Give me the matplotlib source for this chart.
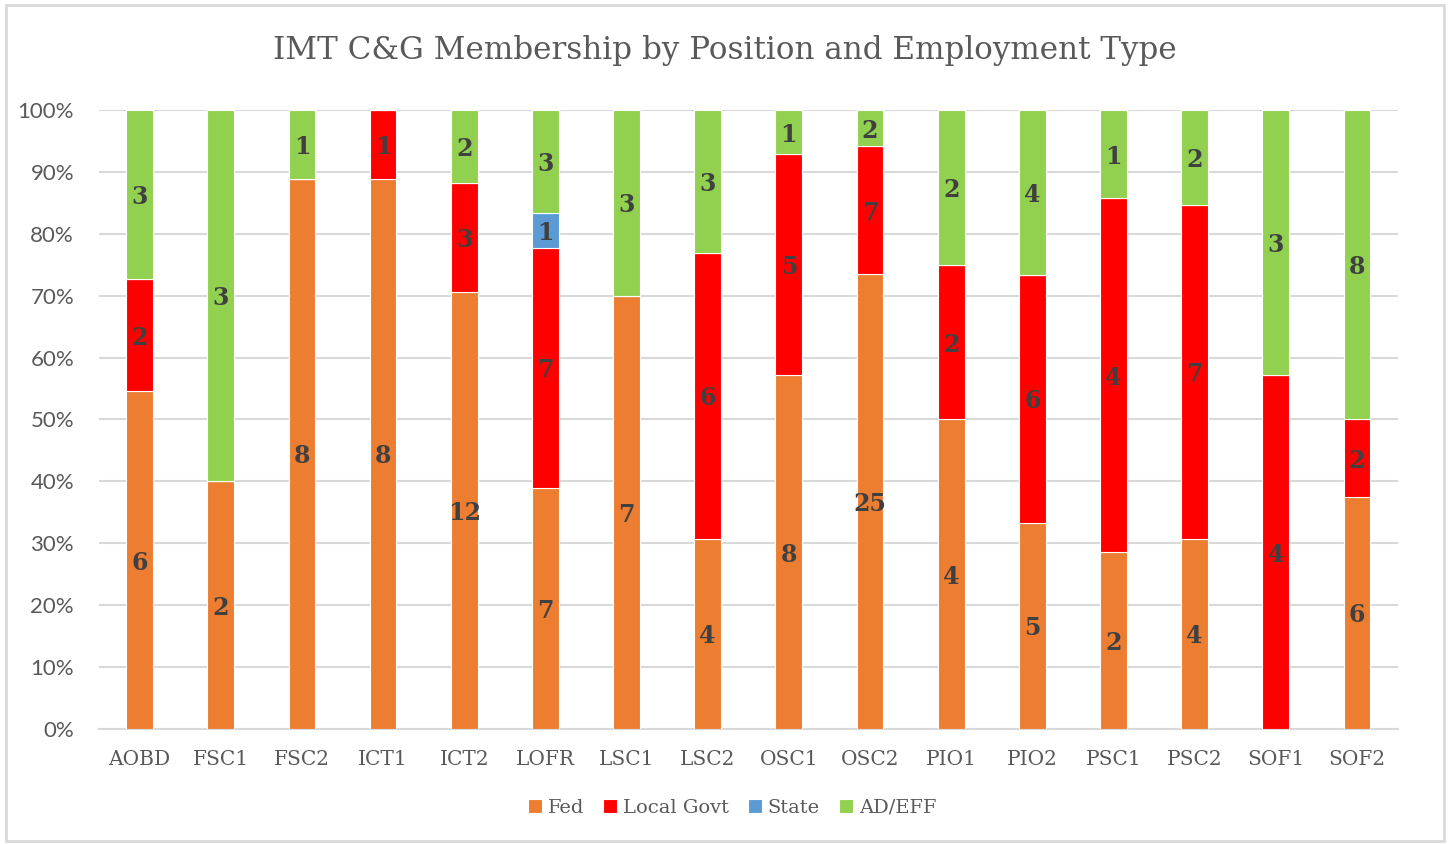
import numpy as np
import matplotlib.pyplot as plt
from matplotlib.patches import Rectangle

positions = ['AOBD', 'FSC1', 'FSC2', 'ICT1', 'ICT2', 'LOFR', 'LSC1', 'LSC2',
             'OSC1', 'OSC2', 'PIO1', 'PIO2', 'PSC1', 'PSC2', 'SOF1', 'SOF2']
fed = [6, 2, 8, 8, 12, 7, 7, 4, 8, 25, 4, 5, 2, 4, 0, 6]
local_govt = [2, 0, 0, 1, 3, 7, 0, 6, 5, 7, 2, 6, 4, 7, 4, 2]
state = [0, 0, 0, 0, 0, 1, 0, 0, 0, 0, 0, 0, 0, 0, 0, 0]
ad_eff = [3, 3, 1, 0, 2, 3, 3, 3, 1, 2, 2, 4, 1, 2, 3, 8]

series = [('Fed', fed, '#ED7D31'),
          ('Local Govt', local_govt, '#FF0000'),
          ('State', state, '#5B9BD5'),
          ('AD/EFF', ad_eff, '#92D050')]

serif = 'DejaVu Serif'
sans = 'Lato'

fig = plt.figure(figsize=(14.5, 8.44), dpi=100)
ax = fig.add_axes([0.0683, 0.1363, 0.8955, 0.7334])

x = np.arange(len(positions))
totals = np.array(fed) + np.array(local_govt) + np.array(state) + np.array(ad_eff)
bottom = np.zeros(len(positions))
for name, vals, color in series:
    vals = np.array(vals, dtype=float)
    pct = vals / totals * 100
    ax.bar(x, pct, 0.33, bottom=bottom, color=color, label=name,
           edgecolor='white', linewidth=0.8, zorder=3)
    for xi, v, p, b in zip(x, vals, pct, bottom):
        if v > 0:
            ax.text(xi, b + p / 2 - 0.4, '%d' % v, ha='center', va='center',
                    fontsize=17, fontweight='bold', color='#404040',
                    family=serif, zorder=4)
    bottom += pct

ax.set_xlim(-0.5, len(positions) - 0.5)
ax.set_ylim(0, 100)
ax.set_yticks(np.arange(0, 101, 10))
ax.set_yticklabels(['%d%%' % v for v in range(0, 101, 10)],
                   family=sans, fontsize=16, color='#595959')
ax.set_xticks(x)
ax.set_xticklabels(positions, family=serif, fontsize=14.5, color='#595959')
ax.tick_params(axis='x', length=0, pad=15)
ax.tick_params(axis='y', length=0, pad=18)
ax.grid(axis='y', color='#D9D9D9', linewidth=1.5, zorder=0)
for s in ['top', 'right', 'left']:
    ax.spines[s].set_visible(False)
ax.spines['bottom'].set_color('#D9D9D9')
ax.spines['bottom'].set_linewidth(1.5)

fig.suptitle('IMT C&G Membership by Position and Employment Type',
             y=0.94, va='center', family=serif, fontsize=22.3, color='#595959')

leg = fig.legend(loc='center', bbox_to_anchor=(0.505, 0.043), ncol=4,
                 frameon=False, handlelength=0.7, handleheight=0.7,
                 handletextpad=0.3, columnspacing=1.0,
                 prop={'family': serif, 'size': 14})
for t in leg.get_texts():
    t.set_color('#595959')

fig.patches.append(Rectangle((0.004, 0.004), 0.992, 0.99, transform=fig.transFigure,
                             fill=False, edgecolor='#D9D9D9', linewidth=2))

fig.savefig('out.png', dpi=100)
